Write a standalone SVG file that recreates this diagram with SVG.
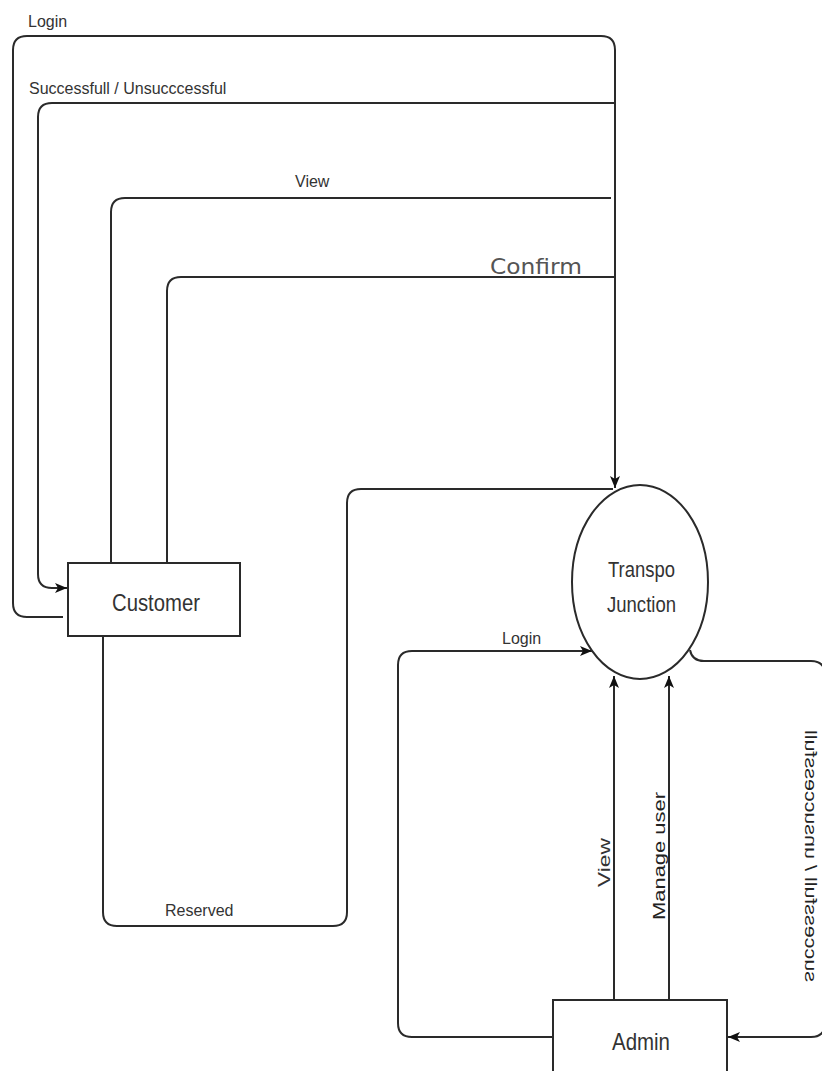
<svg xmlns="http://www.w3.org/2000/svg" width="822" height="1071" viewBox="0 0 822 1071">
<style>
.ln{fill:none;stroke:#2a2a2a;stroke-width:2}
.shape{fill:#fff;stroke:#2a2a2a;stroke-width:2}
.lbl{font-family:"Liberation Sans",Arial,sans-serif;font-size:16px;fill:#333}
.big{font-family:"Liberation Sans",Arial,sans-serif;font-size:24px;fill:#333}
.cf{font-family:"DejaVu Sans",sans-serif;font-size:22px;fill:#555}
</style>
<defs>
<marker id="arr" viewBox="0 0 12 10" refX="12" refY="5" markerWidth="12" markerHeight="10" orient="auto" markerUnits="userSpaceOnUse">
<path d="M0,0 L12,5 L0,10 L3,5 z" fill="#111"/>
</marker>
</defs>
<rect width="822" height="1071" fill="#fff"/>
<g id="connectors">
<path class="ln" marker-end="url(#arr)" d="M63 617 H27 Q13 617 13 603 V50 Q13 36 27 36 H601 Q615 36 615 50 V488"/>
<path class="ln" marker-end="url(#arr)" d="M615 103 H52 Q38 103 38 117 V574 Q38 588 52 588 H67"/>
<path class="ln" d="M611 198 H125 Q111 198 111 212 V563"/>
<path class="ln" d="M615 277 H181 Q167 277 167 291 V563"/>
<path class="ln" d="M103 637 V912 Q103 926 117 926 H333 Q347 926 347 912 V503 Q347 489 361 489 H613"/>
<path class="ln" marker-end="url(#arr)" d="M553 1037 H412 Q398 1037 398 1023 V665 Q398 651 412 651 H592"/>
<path class="ln" marker-end="url(#arr)" d="M614 1000 V676"/>
<path class="ln" marker-end="url(#arr)" d="M669 1000 V676"/>
<path class="ln" marker-end="url(#arr)" d="M690 650 Q692 661 704 661 H811 Q825 661 825 675 V1023 Q825 1037 811 1037 H728"/>
<text class="lbl" x="28" y="27">Login</text>
<text class="lbl" x="29" y="94">Successfull / Unsucccessful</text>
<text class="lbl" x="295" y="187">View</text>
<text class="cf" x="490" y="274" textLength="92" lengthAdjust="spacingAndGlyphs">Confirm</text>
<text class="lbl" x="165" y="916">Reserved</text>
<text class="lbl" x="502" y="644">Login</text>
<text class="lbl" style="font-size:17px" transform="translate(610,887) rotate(-90)" textLength="49" lengthAdjust="spacingAndGlyphs">View</text>
<text class="lbl" style="font-size:17px;fill:#222" transform="translate(665,920) rotate(-90)" textLength="128" lengthAdjust="spacingAndGlyphs">Manage user</text>
<text class="lbl" style="font-size:16px;fill:#222" transform="translate(805,982) rotate(-90) scale(1,-1)" textLength="252" lengthAdjust="spacingAndGlyphs">successfull / unsuccessfull</text>
</g>
<g id="customer">
<rect class="shape" x="68" y="563" width="172" height="73"/>
<text class="big" x="112" y="611" textLength="88" lengthAdjust="spacingAndGlyphs">Customer</text>
</g>
<g id="transpo-junction">
<ellipse class="shape" cx="640" cy="582" rx="68" ry="97"/>
<text class="big" style="font-size:22px" x="608" y="577" textLength="67" lengthAdjust="spacingAndGlyphs">Transpo</text>
<text class="big" style="font-size:22px" x="607" y="612" textLength="69" lengthAdjust="spacingAndGlyphs">Junction</text>
</g>
<g id="admin">
<rect class="shape" x="553" y="1000" width="174" height="90"/>
<text class="big" x="612" y="1050" textLength="58" lengthAdjust="spacingAndGlyphs">Admin</text>
</g>
</svg>
